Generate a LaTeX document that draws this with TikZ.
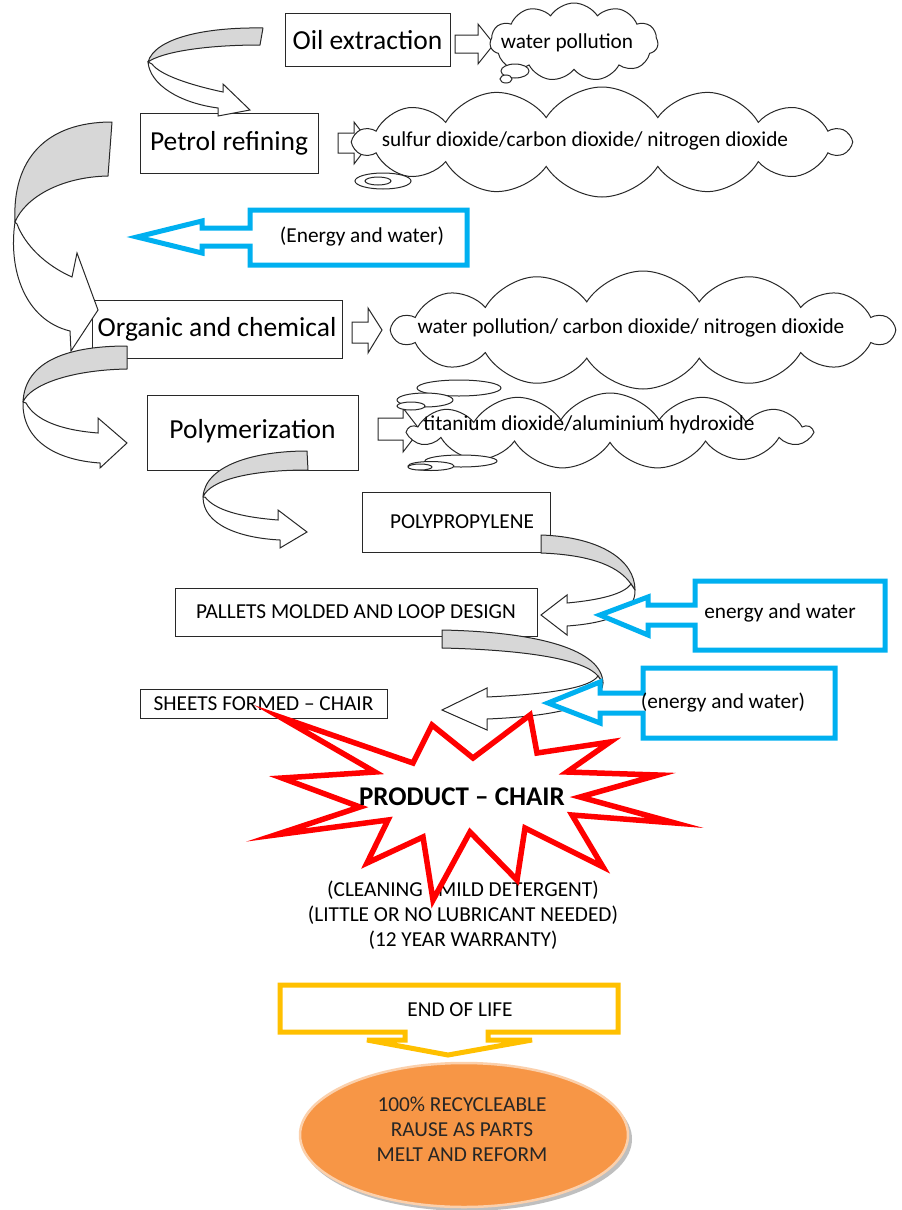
\documentclass[tikz,border=0pt]{standalone}
\usepackage{fontspec}
\setmainfont{Carlito}
\usetikzlibrary{shapes.symbols,shapes.geometric}
\definecolor{cblue}{RGB}{0,176,240}
\definecolor{cyel}{RGB}{255,192,0}
\definecolor{cred}{RGB}{255,0,0}
\definecolor{corange}{RGB}{247,150,70}
\definecolor{cgray}{RGB}{215,215,215}
\definecolor{cline}{RGB}{40,40,40}
\begin{document}
\begin{tikzpicture}[x=1pt,y=-1pt,
  pbox/.style={draw=cline, line width=1pt, fill=white, inner sep=0pt, font=\fontsize{27.5}{31}\selectfont},
  sbox/.style={draw=cline, line width=1pt, fill=white, inner sep=0pt, font=\fontsize{21.3}{25}\selectfont},
  blk/.style={draw=cline, line width=1pt, fill=white, line join=miter},
  gry/.style={draw=cline, line width=1pt, fill=cgray, line join=round},
  cld/.style={cloud, draw=cline, line width=1pt, fill=white, inner sep=0pt, cloud puff arc=115},
  bub/.style={draw=cline, line width=1pt, fill=white},
  txt/.style={font=\fontsize{21.3}{25}\selectfont, inner sep=0pt},
  bluec/.style={draw=cblue, line width=5pt, fill=white, line join=miter},
  yelc/.style={draw=cyel, line width=5pt, fill=white, line join=miter},
  starc/.style={draw=cred, line width=5.5pt, fill=white, line join=miter, miter limit=20}]
\useasboundingbox (0,0) rectangle (902,1210);
\fill[white] (0,0) rectangle (902,1210);

% process boxes
\node[pbox, minimum width=165pt, minimum height=53pt] (oil) at (367.5,40) {Oil extraction};
\node[pbox, minimum width=178pt, minimum height=60pt] (petrol) at (229,143) {Petrol refining};
\node[pbox, minimum width=250pt, minimum height=58pt] (org) at (217,329) {Organic and chemical};
\node[pbox, minimum width=211pt, minimum height=75pt] (poly) at (252.5,432.5) {\raisebox{7pt}{Polymerization}};
\node[sbox, minimum width=188pt, minimum height=60pt] (pp) at (456,522) {\hspace*{12pt}POLYPROPYLENE};
\node[sbox, minimum width=362pt, minimum height=48pt] (pal) at (356,612) {PALLETS MOLDED AND LOOP DESIGN};
\node[sbox, minimum width=247pt, minimum height=29pt] (sheets) at (263.5,703.5) {SHEETS FORMED -- CHAIR};

% curved arrows
% A1 oil -> petrol
\draw[gry] (263,28) .. controls (205,27) and (155,38) .. (148,62) .. controls (162,52) and (205,45) .. (260,45) -- cycle;
\draw[blk] (148,62) .. controls (150,85) and (180,103) .. (218,108) -- (218,116) -- (250,110) -- (223,84) -- (223,92) .. controls (190,85) and (160,75) .. (152,64) -- cycle;
% A2 petrol -> organic
\draw[gry] (112,122) .. controls (45,122) and (12,160) .. (15,222) .. controls (25,198) and (60,177) .. (108,176) -- cycle;
\draw[blk] (15,222) .. controls (8,270) and (25,320) .. (70,331) -- (71,351) -- (98,310) -- (77,253) -- (72,277) .. controls (45,265) and (25,245) .. (17,224) -- cycle;
% A3 organic -> polymerization
\draw[gry] (127,346) .. controls (70,346) and (25,360) .. (23,402) .. controls (30,385) and (70,370) .. (127,369) -- cycle;
\draw[blk] (23,402) .. controls (22,440) and (55,460) .. (100,463) -- (100,468) -- (127,443) -- (98,418) -- (98,433) .. controls (60,430) and (35,420) .. (26,403) -- cycle;
% A4 polymerization -> polypropylene
\draw[gry] (307,451) .. controls (255,451) and (205,465) .. (203,497) .. controls (210,480) and (250,470) .. (308,470) -- cycle;
\draw[blk] (203,497) .. controls (203,525) and (240,538) .. (280,540) -- (280,548) -- (307,532) -- (278,510) -- (278,520) .. controls (240,517) and (215,510) .. (205,497) -- cycle;
% A5 polypropylene -> pallets
\draw[gry] (541,535) .. controls (600,537) and (635,560) .. (635,590) -- (631,584) .. controls (620,568) and (595,555) .. (541,553) -- cycle;
\draw[blk] (635,590) .. controls (636,612) and (610,623) .. (567,626) -- (567,635) -- (541,615) -- (567,595) -- (567,603) .. controls (600,600) and (624,594) .. (631,584) -- cycle;
% A6 pallets -> sheets
\draw[gry] (442,630) .. controls (540,632) and (602,650) .. (603,683) -- (598,676) .. controls (585,660) and (530,650) .. (442,648) -- cycle;
\draw[blk] (603,683) .. controls (602,705) and (560,716) .. (487,719) -- (487,730) -- (442,710) -- (487,688) -- (487,697) .. controls (550,694) and (590,688) .. (598,676) -- cycle;

% block arrows to clouds
\draw[blk] (455,35) -- (478,35) -- (478,24) -- (494,44) -- (478,64) -- (478,53) -- (455,53) -- cycle;
\draw[blk] (338,133) -- (354,133) -- (354,122) -- (370,143) -- (354,164) -- (354,153) -- (338,153) -- cycle;
\draw[blk] (352,322) -- (368,322) -- (368,308) -- (382,330) -- (368,353) -- (368,343) -- (352,343) -- cycle;
\draw[blk] (378,418) -- (403,418) -- (403,408) -- (420,430) -- (403,452) -- (403,440) -- (378,440) -- cycle;

% clouds
\node[cld, cloud puffs=14, aspect=4.5, minimum width=495pt, minimum height=110pt] (c2) at (602,142) {};
\draw[bub] (383,181) ellipse [x radius=28, y radius=8];
\draw[bub] (378,181) ellipse [x radius=13, y radius=4];
\node[cld, cloud puffs=11, aspect=2.2, minimum width=168pt, minimum height=78pt] (c1) at (574,42) {};
\draw[bub] (515,71) ellipse [x radius=14, y radius=7];
\draw[bub] (506,79) ellipse [x radius=6, y radius=4];
\node[cld, cloud puffs=14, aspect=4.2, minimum width=500pt, minimum height=118pt] (c3) at (643,330) {};
\draw[bub] (459,388) ellipse [x radius=42, y radius=8];
\draw[bub] (425,400) ellipse [x radius=28, y radius=7];
\draw[bub] (411,406) ellipse [x radius=14, y radius=4];
\node[cld, cloud puffs=13, aspect=5, minimum width=402pt, minimum height=76pt] (c4) at (610,431) {};
\draw[bub] (461,461) ellipse [x radius=36, y radius=6];
\draw[bub] (431,466) ellipse [x radius=23, y radius=4.5];
\draw[bub] (420,467) ellipse [x radius=12, y radius=3];

\node[txt] (t1) at (567,43) {water pollution};
\node[txt] (t2) at (585,141) {sulfur dioxide/carbon dioxide/ nitrogen dioxide};
\node[txt] (t3) at (631,328) {water pollution/ carbon dioxide/ nitrogen dioxide};
\node[txt] (t4) at (589,425) {titanium dioxide/aluminium hydroxide};

% blue callouts
\draw[bluec] (467,210) -- (250,210) -- (250,228) -- (202,228) -- (202,221) -- (137,237) -- (202,253) -- (202,246) -- (250,246) -- (250,265) -- (467,265) -- cycle;
\node[txt] (e1) at (362,237) {(Energy and water)};
\draw[bluec] (885,581) -- (695,581) -- (695,605) -- (648,605) -- (648,597) -- (600,615) -- (648,635) -- (648,625) -- (695,625) -- (695,650) -- (885,650) -- cycle;
\node[txt] (e2) at (780,613) {energy and water};
\draw[bluec] (835,668) -- (643,668) -- (643,693) -- (600,693) -- (600,682) -- (548,703) -- (600,723) -- (600,713) -- (643,713) -- (643,738) -- (835,738) -- cycle;
\node[txt] (e3) at (723,703) {(energy and water)};

% product star
\node[txt, align=center] (care) at (463,915) {(CLEANING --MILD DETERGENT)\\(LITTLE OR NO LUBRICANT NEEDED)\\(12 YEAR WARRANTY)};
\draw[starc] (280,717) -- (413,763) -- (432,725) -- (473,758) -- (530,715) -- (537,753) -- (610,742) -- (567,772) -- (658,775) -- (580,797) -- (675,823) -- (572,815) -- (603,867) -- (525,828) -- (517,880) -- (470,832) -- (433,900) -- (423,837) -- (367,863) -- (388,820) -- (275,835) -- (360,807) -- (282,778) -- (375,772) -- cycle;
\node[font=\fontsize{27}{30}\selectfont\bfseries, inner sep=0pt] (prod) at (462,797) {PRODUCT -- CHAIR};

% end of life
\draw[yelc] (280,985) -- (618,985) -- (618,1032) -- (488,1032) -- (488,1040) -- (532,1040) -- (448,1055) -- (367,1040) -- (405,1040) -- (405,1032) -- (280,1032) -- cycle;
\node[txt] (eol) at (460,1010) {END OF LIFE};

% recycle ellipse
\fill[black!25] (467,1139) ellipse [x radius=165, y radius=72];
\node[ellipse, fill=corange, draw=corange!45!white, line width=2.5pt, minimum width=328pt, minimum height=144pt, inner sep=0pt] (rec) at (464,1135) {};
\node[txt, align=center, text=black!85] (rect) at (462,1129) {100\% RECYCLEABLE\\RAUSE AS PARTS\\MELT AND REFORM};
\end{tikzpicture}
\end{document}
